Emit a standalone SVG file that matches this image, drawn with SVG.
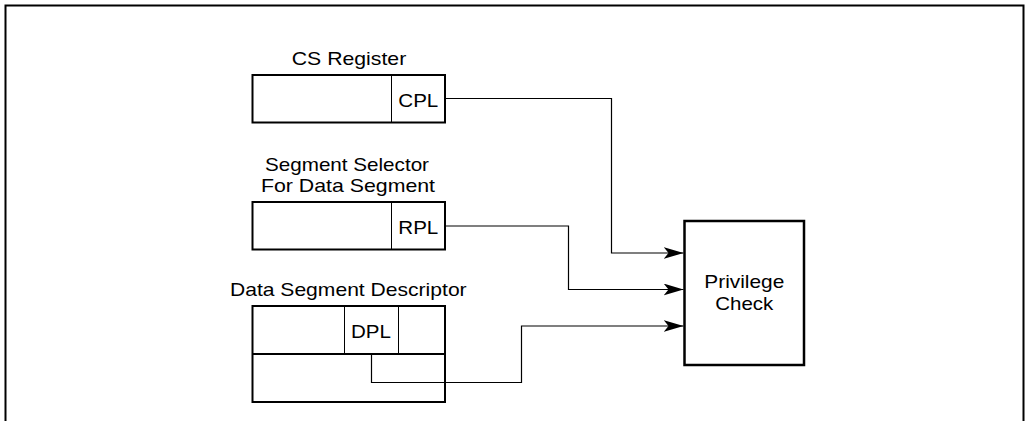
<svg xmlns="http://www.w3.org/2000/svg" width="1029" height="421" viewBox="0 0 1029 421">
  <style>
    .box { fill: #ffffff; stroke: #000000; stroke-width: 2; }
    .thin { fill: none; stroke: #000000; stroke-width: 1; }
    .mid { fill: none; stroke: #000000; stroke-width: 2; }
    .conn { fill: none; stroke: #000000; stroke-width: 1.2; marker-end: url(#arrow); }
    .lbl { font-family: "Liberation Sans", Arial, Helvetica, sans-serif; font-size: 18.5px; fill: #000000; text-anchor: middle; }
  </style>
  <defs>
    <marker id="arrow" markerUnits="userSpaceOnUse" viewBox="0 0 20 12" markerWidth="20" markerHeight="12" refX="20" refY="6" orient="auto">
      <path d="M0,0 L20,6 L0,12 L5,6 Z" fill="#000000"/>
    </marker>
  </defs>
  <rect width="1029" height="421" fill="#ffffff"/>
  <path d="M5.5,421 V5.5 H1023.5 V421" fill="none" stroke="#000000" stroke-width="2"/>

  <g id="cs-register">
    <text class="lbl" x="349" y="64.8" textLength="114.5" lengthAdjust="spacingAndGlyphs">CS Register</text>
    <rect class="box" x="252.5" y="75" width="192.5" height="47.5"/>
    <line class="thin" x1="391.5" y1="75" x2="391.5" y2="122.5"/>
    <text class="lbl" x="418.3" y="106.7" textLength="40" lengthAdjust="spacingAndGlyphs">CPL</text>
  </g>

  <g id="segment-selector">
    <text class="lbl" x="347" y="170.7" textLength="164" lengthAdjust="spacingAndGlyphs">Segment Selector</text>
    <text class="lbl" x="348" y="191.5" textLength="174" lengthAdjust="spacingAndGlyphs">For Data Segment</text>
    <rect class="box" x="252.5" y="202" width="192.5" height="47.5"/>
    <line class="thin" x1="391.5" y1="202" x2="391.5" y2="249.5"/>
    <text class="lbl" x="418.3" y="233.5" textLength="40" lengthAdjust="spacingAndGlyphs">RPL</text>
  </g>

  <g id="data-segment-descriptor">
    <text class="lbl" x="348.3" y="296" textLength="236.7" lengthAdjust="spacingAndGlyphs">Data Segment Descriptor</text>
    <rect class="box" x="252.5" y="306" width="192.5" height="96"/>
    <line class="mid" x1="252.5" y1="354" x2="445" y2="354"/>
    <line class="thin" x1="344.5" y1="306" x2="344.5" y2="354"/>
    <line class="thin" x1="398.5" y1="306" x2="398.5" y2="354"/>
    <text class="lbl" x="371" y="338.3" textLength="40" lengthAdjust="spacingAndGlyphs">DPL</text>
  </g>

  <g id="privilege-check">
    <rect x="684.5" y="221" width="119.5" height="144" fill="#ffffff" stroke="#000000" stroke-width="2.5"/>
    <text class="lbl" x="744.3" y="288.3" textLength="80" lengthAdjust="spacingAndGlyphs">Privilege</text>
    <text class="lbl" x="744.3" y="310" textLength="58" lengthAdjust="spacingAndGlyphs">Check</text>
  </g>

  <g id="connectors">
    <path class="conn" d="M445,98.5 H611.5 V253 H683.5"/>
    <path class="conn" d="M445,226 H568.5 V289.5 H683.5"/>
    <path class="conn" d="M371.5,354 V382.5 H521.5 V326 H683.5"/>
  </g>
</svg>
